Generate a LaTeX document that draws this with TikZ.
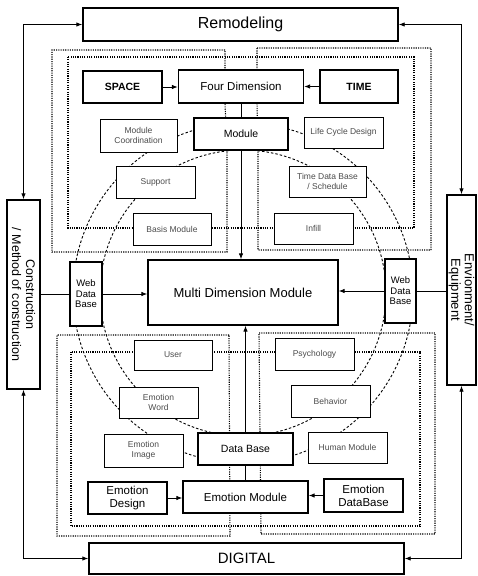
\documentclass[tikz,border=0pt]{standalone}
\usepackage{fontspec}
\setmainfont{Liberation Sans}
\usetikzlibrary{arrows.meta}
\begin{document}
\begin{tikzpicture}[x=1pt,y=-1pt,
  bigbox/.style={draw, line width=1.3pt, fill=white, inner sep=1pt, align=center},
  smallbox/.style={draw, line width=0.8pt, fill=white, inner sep=1pt, align=center, text=black!70, font=\fontsize{8.5}{10}\selectfont},
  region/.style={line width=1.1pt, dash pattern=on 1.1pt off 1.2pt},
  ring/.style={line width=0.9pt, dash pattern=on 2.5pt off 2pt},
  conn/.style={line width=0.9pt},
  arr/.style={conn, -{Latex[length=6pt,width=4.5pt]}},
  darr/.style={conn, {Latex[length=6pt,width=4.5pt]}-{Latex[length=6pt,width=4.5pt]}},
  fbig/.style={font=\fontsize{11.5}{13}\selectfont},
  fmid/.style={font=\fontsize{10.5}{12}\selectfont},
]
\useasboundingbox (0,0) rectangle (478,576);
\fill[white] (0,0) rectangle (478,576);

% dotted regions
\draw[region] (68,57) rectangle (414,228);
\draw[region] (225,50) -- (52,50) -- (52,252) -- (227,252) -- (227,150) -- (225,103) -- cycle;
\draw[region] (257,48) -- (431,48) -- (431,250) -- (258,250) -- (258,150) -- (257,103) -- cycle;
\draw[region] (71,352) rectangle (420,526);
\draw[region] (229,335) -- (57,335) -- (57,536) -- (230,536) -- cycle;
\draw[region] (259,333) -- (435,333) -- (435,534) -- (261,534) -- cycle;

% dashed rings
\draw[ring] (243,293) circle[radius=170];
\draw[ring] (243,293) circle[radius=143];

% outer frame boxes
\node[bigbox, line width=1.4pt, minimum width=315pt, minimum height=33pt, font=\fontsize{16}{18}\selectfont] (remod) at (240.5,24.5) {Remodeling};
\node[bigbox, line width=1.4pt, minimum width=315pt, minimum height=31pt, font=\fontsize{15}{17}\selectfont] (digital) at (246.5,558.5) {DIGITAL};
\node[bigbox, line width=1.4pt, minimum width=33pt, minimum height=189pt] (cons) at (23.5,294.5) {};
\node[rotate=-90, align=center, font=\fontsize{12.5}{14}\selectfont] (const) at (cons.center) {Construction\\/ Method of construction};
\node[bigbox, line width=1.4pt, minimum width=29pt, minimum height=190pt] (env) at (461.5,290) {};
\node[rotate=-90, align=center, font=\fontsize{13}{13.5}\selectfont] (envt) at (env.center) {Envionment/\\Equipment};

% upper part
\node[bigbox, minimum width=79pt, minimum height=32pt, font=\bfseries\fontsize{10.5}{12}\selectfont] (space) at (122.5,87) {SPACE};
\node[bigbox, fbig, minimum width=125pt, minimum height=33pt] (fd) at (241,86.5) {Four Dimension};
\node[bigbox, minimum width=78pt, minimum height=33pt, font=\bfseries\fontsize{10.5}{12}\selectfont] (time) at (359,86.5) {TIME};
\node[bigbox, fmid, minimum width=94pt, minimum height=32pt] (module) at (241,134) {Module};
\node[smallbox, minimum width=77pt, minimum height=33pt] (modcoord) at (138.5,135.5) {Module\\Coordination};
\node[smallbox, minimum width=79pt, minimum height=31pt] (lcd) at (343.5,132.5) {Life Cycle Design};
\node[smallbox, minimum width=79pt, minimum height=32pt] (support) at (155.5,182) {Support};
\node[smallbox, minimum width=77pt, minimum height=31pt] (tdb) at (327.5,181.5) {Time Data Base\\/ Schedule};
\node[smallbox, minimum width=78pt, minimum height=32pt] (basis) at (172,229) {Basis Module};
\node[smallbox, minimum width=79pt, minimum height=31pt] (infill) at (313.5,228.5) {Infill};

% middle
\node[bigbox, minimum width=190pt, minimum height=65pt, font=\fontsize{13}{15}\selectfont] (mdm) at (243,292.5) {Multi Dimension Module};
\node[bigbox, minimum width=32pt, minimum height=64pt, font=\fontsize{9.5}{10.5}\selectfont] (wdbl) at (86,294) {Web\\Data\\Base};
\node[bigbox, minimum width=31pt, minimum height=64pt, font=\fontsize{9.5}{10.5}\selectfont] (wdbr) at (400.5,291) {Web\\Data\\Base};

% lower part
\node[smallbox, minimum width=78pt, minimum height=30pt] (user) at (173,355) {User};
\node[smallbox, minimum width=79pt, minimum height=32pt] (psych) at (314.5,354) {Psychology};
\node[smallbox, minimum width=79pt, minimum height=31pt] (eword) at (158.5,402.5) {Emotion\\Word};
\node[smallbox, minimum width=79pt, minimum height=32pt] (behav) at (330.5,401) {Behavior};
\node[smallbox, minimum width=79pt, minimum height=33pt] (eimage) at (143.5,450.5) {Emotion\\Image};
\node[bigbox, fmid, minimum width=95pt, minimum height=32pt] (db) at (245.5,449) {Data Base};
\node[smallbox, minimum width=79pt, minimum height=31pt] (human) at (347.5,447.5) {Human Module};
\node[bigbox, fbig, minimum width=79pt, minimum height=32pt] (edesign) at (127.5,498) {Emotion\\Design};
\node[bigbox, fbig, minimum width=125pt, minimum height=32pt] (emod) at (245.5,497) {Emotion Module};
\node[bigbox, fbig, minimum width=79pt, minimum height=33pt] (edb) at (363.5,495.5) {Emotion\\DataBase};

% connectors
\draw[darr] (cons.north) |- (remod.west);
\draw[darr] (env.north) |- (remod.east);
\draw[darr] (cons.south) |- (digital.west);
\draw[darr] (env.south) |- (digital.east);
\draw[arr] (space.east) -- (space.east -| fd.west);
\draw[arr] (time.west) -- (time.west -| fd.east);
\draw[arr] (edesign.east) -- (edesign.east -| emod.west);
\draw[arr] (edb.west) -- (edb.west -| emod.east);
\draw[conn] (fd.south) -- (module.north);
\draw[arr] (module.south) -- (module.south |- mdm.north);
\draw[conn] (emod.north) -- (db.south);
\draw[arr] (db.north) -- (db.north |- mdm.south);
\draw[conn] (cons.east |- wdbl.west) -- (wdbl.west);
\draw[arr] (wdbl.east) -- (wdbl.east -| mdm.west);
\draw[conn] (env.west |- wdbr.east) -- (wdbr.east);
\draw[arr] (wdbr.west) -- (wdbr.west -| mdm.east);
\end{tikzpicture}
\end{document}
